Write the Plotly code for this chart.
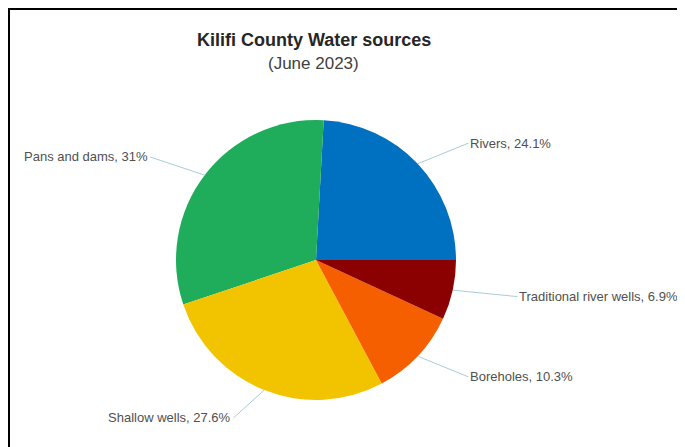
import numpy as np
import plotly.graph_objects as go

# ---- data ----
labels = ["Rivers", "Pans and dams", "Shallow wells", "Boreholes", "Traditional river wells"]
values = [24.1, 31, 27.6, 10.3, 6.9]
colors = ["#0070C0", "#1FAD5B", "#F2C400", "#F55F00", "#8B0000"]
title_text = "Kilifi County Water sources"
subtitle_text = "(June 2023)"

# ---- layout constants (page pixels; page body has an 8px margin) ----
OFF = 8
W, H = 685 - OFF, 447 - OFF
cx, cy, R = 316 - OFF, 260 - OFF, 140
Lx, Ly, gap = 196, 170, 10

vals = np.array(values, dtype=float)
frac = vals / vals.sum()
# first slice starts at 3 o'clock and runs counterclockwise
rotation = 90 - frac[0] * 360

fig = go.Figure(go.Pie(
    labels=labels, values=values, sort=False,
    direction="counterclockwise", rotation=rotation,
    marker=dict(colors=colors, line=dict(width=0)),
    textinfo="none", hoverinfo="label+percent",
    domain=dict(x=[(cx - R) / W, (cx + R) / W], y=[1 - (cy + R) / H, 1 - (cy - R) / H]),
    showlegend=False,
))

mid = (np.cumsum(frac) - frac / 2) * 2 * np.pi

annotations = []
for lab, v, th in zip(labels, values, mid):
    c, s = np.cos(th), np.sin(th)
    ex, ey = cx + R * c, cy - R * s
    sign = 1 if c >= 0 else -1
    lx, ly = cx + Lx * c + sign * gap, cy - Ly * s
    annotations.append(dict(
        x=ex / W, y=1 - ey / H, xref="paper", yref="paper",
        ax=lx - ex, ay=ly - ey,
        text=f"{lab}, {v:g}%",
        showarrow=True, arrowhead=0, arrowwidth=1, arrowcolor="#A9CCD8",
        xanchor="left" if sign > 0 else "right", yanchor="middle",
        font=dict(family="Liberation Sans, Arial, sans-serif", size=13, color="#505050"),
    ))

annotations.append(dict(
    x=(314 - OFF) / W, y=1 - (40 - OFF) / H, xref="paper", yref="paper", showarrow=False,
    text=f"<b>{title_text}</b>", xanchor="center", yanchor="middle",
    font=dict(family="Liberation Sans, Arial, sans-serif", size=18, color="#262626"),
))
annotations.append(dict(
    x=(313 - OFF) / W, y=1 - (64 - OFF) / H, xref="paper", yref="paper", showarrow=False,
    text=subtitle_text, xanchor="center", yanchor="middle",
    font=dict(family="Liberation Sans, Arial, sans-serif", size=17, color="#404040"),
))

fig.update_layout(
    width=W, height=H,
    margin=dict(l=0, r=0, t=0, b=0),
    paper_bgcolor="white", plot_bgcolor="white",
    annotations=annotations,
    shapes=[dict(type="rect", xref="paper", yref="paper",
                 x0=(9 - OFF) / W, x1=1.05, y0=-0.05, y1=1 - (9 - OFF) / H,
                 line=dict(color="black", width=2))],
)

fig.write_html("out.html")
